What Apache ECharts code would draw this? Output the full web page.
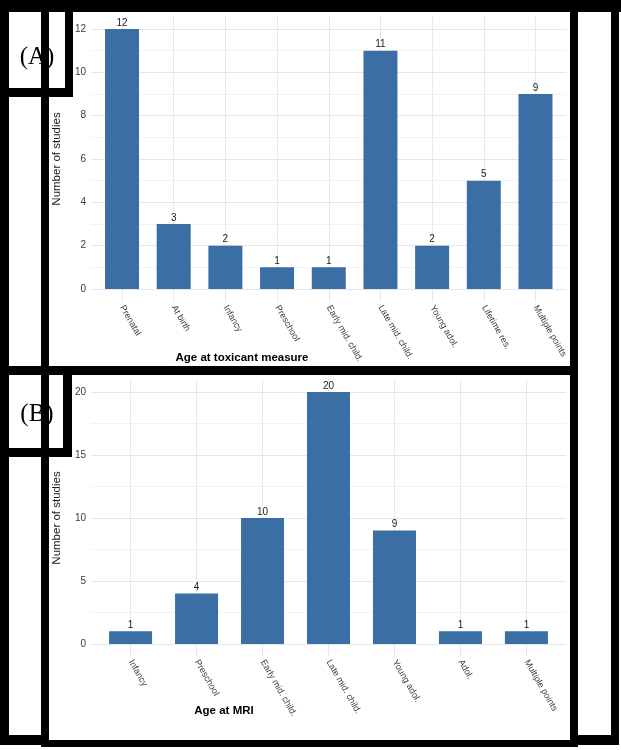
<!DOCTYPE html>
<html>
<head>
<meta charset="utf-8">
<script src="https://cdn.jsdelivr.net/npm/echarts@6/dist/echarts.min.js"></script>
<style>
html,body{margin:0;padding:0;background:#fff;}
#chart{width:621px;height:750px;}
</style>
</head>
<body>
<div id="chart"></div>
<script>
// ---- data ----
const categoriesA = ['Prenatal', 'At birth', 'Infancy', 'Preschool', 'Early mid. child.', 'Late mid. child.', 'Young adol.', 'Lifetime res.', 'Multiple points'];
const valuesA = [12, 3, 2, 1, 1, 11, 2, 5, 9];
const categoriesB = ['Infancy', 'Preschool', 'Early mid. child.', 'Late mid. child.', 'Young adol.', 'Adol.', 'Multiple points'];
const valuesB = [1, 4, 10, 20, 9, 1, 1];
const yTicksA = [0, 2, 4, 6, 8, 10, 12];
const yGridA = [0, 1, 2, 3, 4, 5, 6, 7, 8, 9, 10, 11, 12];
const yTicksB = [0, 5, 10, 15, 20];
const yGridB = [0, 2.5, 5, 7.5, 10, 12.5, 15, 17.5, 20];
const xTitleA = 'Age at toxicant measure';
const xTitleB = 'Age at MRI';
const yTitle = 'Number of studies';
const panelLabels = ['(A)', '(B)'];

// ---- chart ----
const FONT = '"Liberation Sans", Arial, sans-serif';
const posA = categoriesA.map((c, i) => i + 1);
const posB = categoriesB.map((c, i) => i + 1);
const BAR = '#3b6ea5';

function xAxisFor(cats, pos, gridIndex) {
  return {
    type: 'value', gridIndex: gridIndex,
    min: 0.4, max: cats.length + 0.6,
    axisLine: {show: false},
    axisTick: {show: false, customValues: pos},
    axisLabel: {
      customValues: pos, rotate: -60, margin: 4,
      fontSize: 9, color: '#3a3a3a', fontFamily: FONT,
      formatter: v => cats[Math.round(v) - 1] || ''
    },
    splitLine: {show: true, lineStyle: {color: '#e8e8e8', width: 1}}
  };
}
function yAxisFor(ticks, grid, min, max, gridIndex) {
  return {
    type: 'value', gridIndex: gridIndex, min: min, max: max,
    axisLine: {show: false},
    axisTick: {show: false, customValues: grid},
    axisLabel: {customValues: ticks, fontSize: 10, color: '#3a3a3a', fontFamily: FONT, margin: 5},
    splitLine: {show: true, lineStyle: {color: ['#e6e6e6', '#f3f3f3'], width: 1}}
  };
}
function barSeries(vals, idx, w) {
  return {
    type: 'bar', xAxisIndex: idx, yAxisIndex: idx,
    data: vals.map((v, i) => [i + 1, v]),
    barWidth: w,
    itemStyle: {color: BAR},
    label: {show: true, position: 'top', distance: 1, fontSize: 10, color: '#222', fontFamily: FONT},
    silent: true
  };
}

function rect(x, y, w, h, z) {
  return {type: 'rect', shape: {x: x, y: y, width: w, height: h}, style: {fill: '#000'}, z: z || 100, silent: true};
}

const graphics = [
  // panel label texts (under frame bands)
  {type: 'text', x: 37, y: 57, z: 90, style: {text: panelLabels[0], font: '25px "Liberation Serif", "Times New Roman", serif', fill: '#000', textAlign: 'center', textVerticalAlign: 'middle'}},
  {type: 'text', x: 37, y: 414, z: 90, style: {text: panelLabels[1], font: '25px "Liberation Serif", "Times New Roman", serif', fill: '#000', textAlign: 'center', textVerticalAlign: 'middle'}},
  // axis titles
  {type: 'text', x: 242, y: 358, z: 50, style: {text: xTitleA, font: 'bold 11.5px ' + FONT, fill: '#000', textAlign: 'center', textVerticalAlign: 'middle'}},
  {type: 'text', x: 224, y: 711, z: 50, style: {text: xTitleB, font: 'bold 11.5px ' + FONT, fill: '#000', textAlign: 'center', textVerticalAlign: 'middle'}},
  {type: 'text', x: 57, y: 159, rotation: Math.PI / 2, z: 50, style: {text: yTitle, font: '11.5px ' + FONT, fill: '#1a1a1a', textAlign: 'center', textVerticalAlign: 'middle'}},
  {type: 'text', x: 57, y: 518, rotation: Math.PI / 2, z: 50, style: {text: yTitle, font: '11.5px ' + FONT, fill: '#1a1a1a', textAlign: 'center', textVerticalAlign: 'middle'}},
  // frame bands
  rect(0, 0, 621, 12),        // top band
  rect(0, 0, 9, 745),         // left outer band
  rect(41, 0, 8, 747),        // second vertical band
  rect(65, 0, 8, 97),         // (A) box right
  rect(0, 88, 73, 9),         // (A) box bottom
  rect(0, 366, 578, 9),       // separator
  rect(63, 366, 9, 91),       // (B) box right
  rect(0, 448, 72, 9),        // (B) box bottom
  rect(570, 0, 8, 747),       // panel right border
  rect(41, 740, 537, 7),      // panel bottom
  rect(0, 735, 49, 10),       // left bottom
  rect(611, 0, 8, 745),       // right box right border
  rect(578, 735, 41, 10)      // right box bottom
];

const option = {
  backgroundColor: '#fff',
  animation: false,
  grid: [
    {left: 91, width: 475.5, top: 16, height: 286, containLabel: false},
    {left: 91, width: 475, top: 379.5, height: 277, containLabel: false}
  ],
  xAxis: [xAxisFor(categoriesA, posA, 0), xAxisFor(categoriesB, posB, 1)],
  yAxis: [yAxisFor(yTicksA, yGridA, -0.6, 12.6, 0), yAxisFor(yTicksB, yGridB, -1, 21, 1)],
  series: [barSeries(valuesA, 0, 34), barSeries(valuesB, 1, 43)],
  graphic: graphics
};

const chart = echarts.init(document.getElementById('chart'), null, {renderer: 'canvas'});
chart.setOption(option);
</script>
</body>
</html>
